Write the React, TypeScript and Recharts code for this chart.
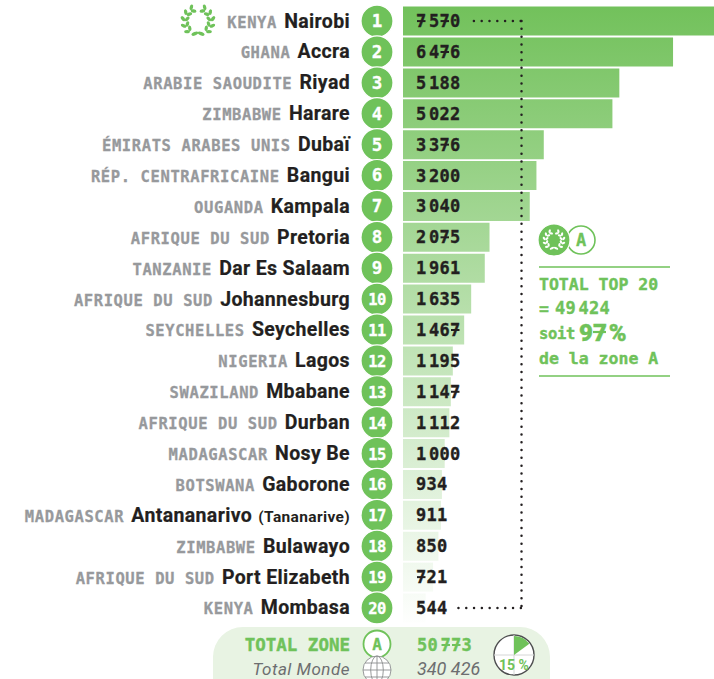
import { BarChart, Bar, XAxis, YAxis, ReferenceLine, LabelList, PieChart, Pie, Cell } from "recharts"

const countries = ["KENYA", "GHANA", "ARABIE SAOUDITE", "ZIMBABWE", "ÉMIRATS ARABES UNIS", "RÉP. CENTRAFRICAINE", "OUGANDA", "AFRIQUE DU SUD", "TANZANIE", "AFRIQUE DU SUD", "SEYCHELLES", "NIGERIA", "SWAZILAND", "AFRIQUE DU SUD", "MADAGASCAR", "BOTSWANA", "MADAGASCAR", "ZIMBABWE", "AFRIQUE DU SUD", "KENYA"]
const cities = ["Nairobi", "Accra", "Riyad", "Harare", "Dubaï", "Bangui", "Kampala", "Pretoria", "Dar Es Salaam", "Johannesburg", "Seychelles", "Lagos", "Mbabane", "Durban", "Nosy Be", "Gaborone", "Antananarivo", "Bulawayo", "Port Elizabeth", "Mombasa"]
const passengers = [7570, 6476, 5188, 5022, 3376, 3200, 3040, 2075, 1961, 1635, 1467, 1195, 1147, 1112, 1000, 934, 911, 850, 721, 544]
const zoneShare = [15, 85]

const rows = cities.map((city, i) => ({ city, value: passengers[i], country: countries[i] }))

const GREEN = "#6fc25a"
const DARK = "#231f20"
const GREY = "#97999c"
const MONO = "'DejaVu Sans Mono', monospace"
const SANS = "Roboto, sans-serif"

function Laurel({ cx, cy, size, color }: { cx: number; cy: number; size: number; color: string }) {
  const leaves: any[] = []
  ;[-1, 1].forEach((side) => {
    ;[-58, -30, -3, 24, 50].forEach((deg, i) => {
      const a = (deg * Math.PI) / 180
      const px = cx + side * size * Math.cos(a)
      const py = cy + size * Math.sin(a)
      leaves.push(
        <g key={side + "-" + i} transform={`translate(${px} ${py}) rotate(${side * deg}) scale(${size / 13})`}>
          <ellipse cx={-2.1} cy={-1.6} rx={2.9} ry={1.7} transform="rotate(48 -2.1 -1.6)" fill={color} />
          <ellipse cx={2.1} cy={-1.6} rx={2.9} ry={1.7} transform="rotate(-48 2.1 -1.6)" fill={color} />
        </g>
      )
    })
    const tipX = cx + side * size * Math.cos((76 * Math.PI) / 180)
    const tipY = cy + size * Math.sin((76 * Math.PI) / 180)
    leaves.push(
      <ellipse key={side + "-tip"} cx={tipX} cy={tipY} rx={(size / 13) * 3.6} ry={(size / 13) * 1.7} transform={`rotate(${side * 24} ${tipX} ${tipY})`} fill={color} />
    )
  })
  return <g>{leaves}</g>
}

// digits are set one by one so the crossed sevens can get their bar
function Digits({ x, y, value, color }: { x: number; y: number; value: number; color: string }) {
  const s = String(value)
  const step = 10.5
  const pos = s.split("").map((_, i) => x + i * step + (s.length > 3 && i >= s.length - 3 ? 2.5 : 0))
  return (
    <g>
      <text y={y} fontFamily={MONO} fontWeight={700} fontSize={17} fill={color} stroke={color} strokeWidth={0.35}>
        {s.split("").map((c, i) => (
          <tspan key={i} x={pos[i]}>{c}</tspan>
        ))}
      </text>
      {s.split("").map((c, i) =>
        c === "7" ? <line key={i} x1={pos[i] + 1} x2={pos[i] + 9.5} y1={y - 6} y2={y - 6} stroke={color} strokeWidth={2} /> : null
      )}
    </g>
  )
}

function RowTick({ y, index }: any) {
  const cy = y
  return (
    <g>
      {index === 0 && <Laurel cx={198} cy={cy} size={13} color={GREEN} />}
      <text x={350} y={cy + 6.5} textAnchor="end">
        <tspan fontFamily={MONO} fontWeight={700} fontSize={15.5} letterSpacing={0.6} fill={GREY} stroke={GREY} strokeWidth={0.3}>{countries[index]}</tspan>
        <tspan dx={2} fontFamily={SANS} fontWeight={700} fontSize={19.5} letterSpacing={0.35} fill={DARK} stroke={DARK} strokeWidth={0.2}>{" " + cities[index]}</tspan>
        {index === 16 && <tspan dx={2} fontFamily={SANS} fontWeight={700} fontSize={15.5} letterSpacing={0.35} fill={DARK}> (Tananarive)</tspan>}
      </text>
      <circle cx={377} cy={cy} r={16} fill={GREEN} stroke="#fff" strokeWidth={1.2} />
      <text x={377} y={cy + 6} textAnchor="middle" fontFamily={MONO} fontWeight={700} fontSize={index > 8 ? 15.5 : 17.5} letterSpacing={index > 8 ? -0.6 : 0} fill="#fff" stroke="#fff" strokeWidth={0.3}>{index + 1}</text>
    </g>
  )
}

function ValueLabel({ x, y, height, value }: any) {
  return <Digits x={x + 13} y={y + height / 2 + 6} value={value} color={DARK} />
}

function Globe({ cx, cy, r }: { cx: number; cy: number; r: number }) {
  return (
    <g fill="none" stroke="#8c8e90" strokeWidth={0.9}>
      <circle cx={cx} cy={cy} r={r} fill="#fff" />
      <ellipse cx={cx} cy={cy} rx={r * 0.45} ry={r} />
      <line x1={cx} x2={cx} y1={cy - r} y2={cy + r} />
      <line x1={cx - r} x2={cx + r} y1={cy} y2={cy} />
      <line x1={cx - r * 0.85} x2={cx + r * 0.85} y1={cy - r * 0.5} y2={cy - r * 0.5} />
      <line x1={cx - r * 0.85} x2={cx + r * 0.85} y1={cy + r * 0.5} y2={cy + r * 0.5} />
    </g>
  )
}

const dots = { stroke: DARK, strokeWidth: 2.5, strokeLinecap: "round" as const, strokeDasharray: "0 7.8" }
const DOT_X = 2842

const layer = { position: "absolute" as const, left: 0, top: 0 }

export default function App() {
  return (
    <div style={{ position: "absolute", left: 0, top: 0, width: 714, height: 679, overflow: "hidden", background: "#fff" }}>
      <BarChart width={714} height={679} data={rows} layout="vertical" margin={{ top: 5.6, right: 0, bottom: 55.6, left: 0 }} style={layer}>
        <defs>
          <linearGradient id="fade" gradientUnits="userSpaceOnUse" x1={0} y1={6} x2={0} y2={628}>
            <stop offset="0" stopColor="#72c15b" />
            <stop offset="1" stopColor="#ffffff" />
          </linearGradient>
        </defs>
        <XAxis type="number" hide domain={[0, 7458]} allowDataOverflow />
        <YAxis type="category" dataKey="city" width={403} interval={0} axisLine={false} tickLine={false} tick={<RowTick />} />
        <Bar dataKey="value" fill="url(#fade)" barSize={29} isAnimationActive={false}>
          <LabelList dataKey="value" content={<ValueLabel />} />
        </Bar>
        <ReferenceLine {...dots} ifOverflow="visible" segment={[{ x: 1700, y: "Nairobi" }, { x: DOT_X, y: "Nairobi" }]} />
        <ReferenceLine {...dots} ifOverflow="visible" segment={[{ x: DOT_X, y: "Nairobi" }, { x: DOT_X, y: "Mombasa" }]} />
        <ReferenceLine {...dots} ifOverflow="visible" segment={[{ x: 1330, y: "Mombasa" }, { x: DOT_X, y: "Mombasa" }]} />
      </BarChart>

      <svg width={714} height={679} style={layer}>
        {/* side note */}
        <circle cx={581} cy={240} r={14} fill="#fff" stroke={GREEN} strokeWidth={1.6} />
        <text x={581} y={246} textAnchor="middle" fontFamily={MONO} fontWeight={700} fontSize={17} fill={GREEN} stroke={GREEN} strokeWidth={0.3}>A</text>
        <circle cx={554} cy={240} r={16} fill={GREEN} stroke="#fff" strokeWidth={1.2} />
        <Laurel cx={554} cy={240} size={8.5} color="#fff" />
        <line x1={539} x2={670} y1={267} y2={267} stroke={GREEN} strokeWidth={1.3} />
        <line x1={539} x2={670} y1={376} y2={376} stroke={GREEN} strokeWidth={1.3} />
        <g fontFamily={MONO} fontWeight={700} fontSize={16.5} fill={GREEN} stroke={GREEN} strokeWidth={0.4}>
          <text x={539} y={290}>TOTAL TOP 20</text>
          <text x={539} y={314}>=</text>
          <text x={539} y={339} fontSize={15.5} letterSpacing={-0.3}>soit</text>
          <text x={539} y={364}>de la zone A</text>
          <text x={579} y={341} fontSize={24} fontFamily={SANS} fontWeight={900} wordSpacing={-4}>97 %</text>
          <line x1={593} x2={606} y1={332} y2={332} strokeWidth={2.2} />
        </g>
        <Digits x={555} y={314} value={49424} color={GREEN} />

        {/* footer band */}
        <rect x={213} y={627} width={337} height={80} rx={30} fill="#e8f3e3" />
        <text x={350} y={651} textAnchor="end" fontFamily={MONO} fontWeight={700} fontSize={17.5} fill={GREEN} stroke={GREEN} strokeWidth={0.4}>TOTAL ZONE</text>
        <circle cx={377} cy={644} r={13.5} fill="#fff" stroke={GREEN} strokeWidth={1.8} />
        <text x={377} y={650} textAnchor="middle" fontFamily={MONO} fontWeight={700} fontSize={16} fill={GREEN} stroke={GREEN} strokeWidth={0.3}>A</text>
        <Digits x={417} y={651} value={50773} color={GREEN} />
        <text x={350} y={675} textAnchor="end" fontFamily={SANS} fontStyle="italic" fontSize={17} letterSpacing={0.5} fill="#6d6e70">Total Monde</text>
        <Globe cx={377} cy={670} r={14} />
        <text x={417} y={675} fontFamily={SANS} fontStyle="italic" fontSize={18} fill="#6d6e70">340 426</text>
        <circle cx={514} cy={655} r={20} fill="#fff" stroke="#4d4d4f" strokeWidth={1.4} />
        <line x1={494} x2={534} y1={655} y2={655} stroke="#d5d6d6" />
        <line x1={514} x2={514} y1={635} y2={675} stroke="#d5d6d6" />
      </svg>

      <PieChart width={40} height={40} margin={{ top: 0, right: 0, bottom: 0, left: 0 }} style={{ position: "absolute", left: 494, top: 635 }}>
        <Pie data={zoneShare.map((value) => ({ value }))} dataKey="value" cx={20} cy={20} innerRadius={0} outerRadius={19} startAngle={90} endAngle={-270} stroke="none" isAnimationActive={false}>
          <Cell fill={GREEN} />
          <Cell fill="transparent" />
        </Pie>
      </PieChart>

      <svg width={714} height={679} style={{ ...layer, pointerEvents: "none" }}>
        <text x={514} y={670} textAnchor="middle" fontFamily={SANS} fontWeight={700} fontSize={14} fill={GREEN}>15 %</text>
      </svg>
    </div>
  )
}
